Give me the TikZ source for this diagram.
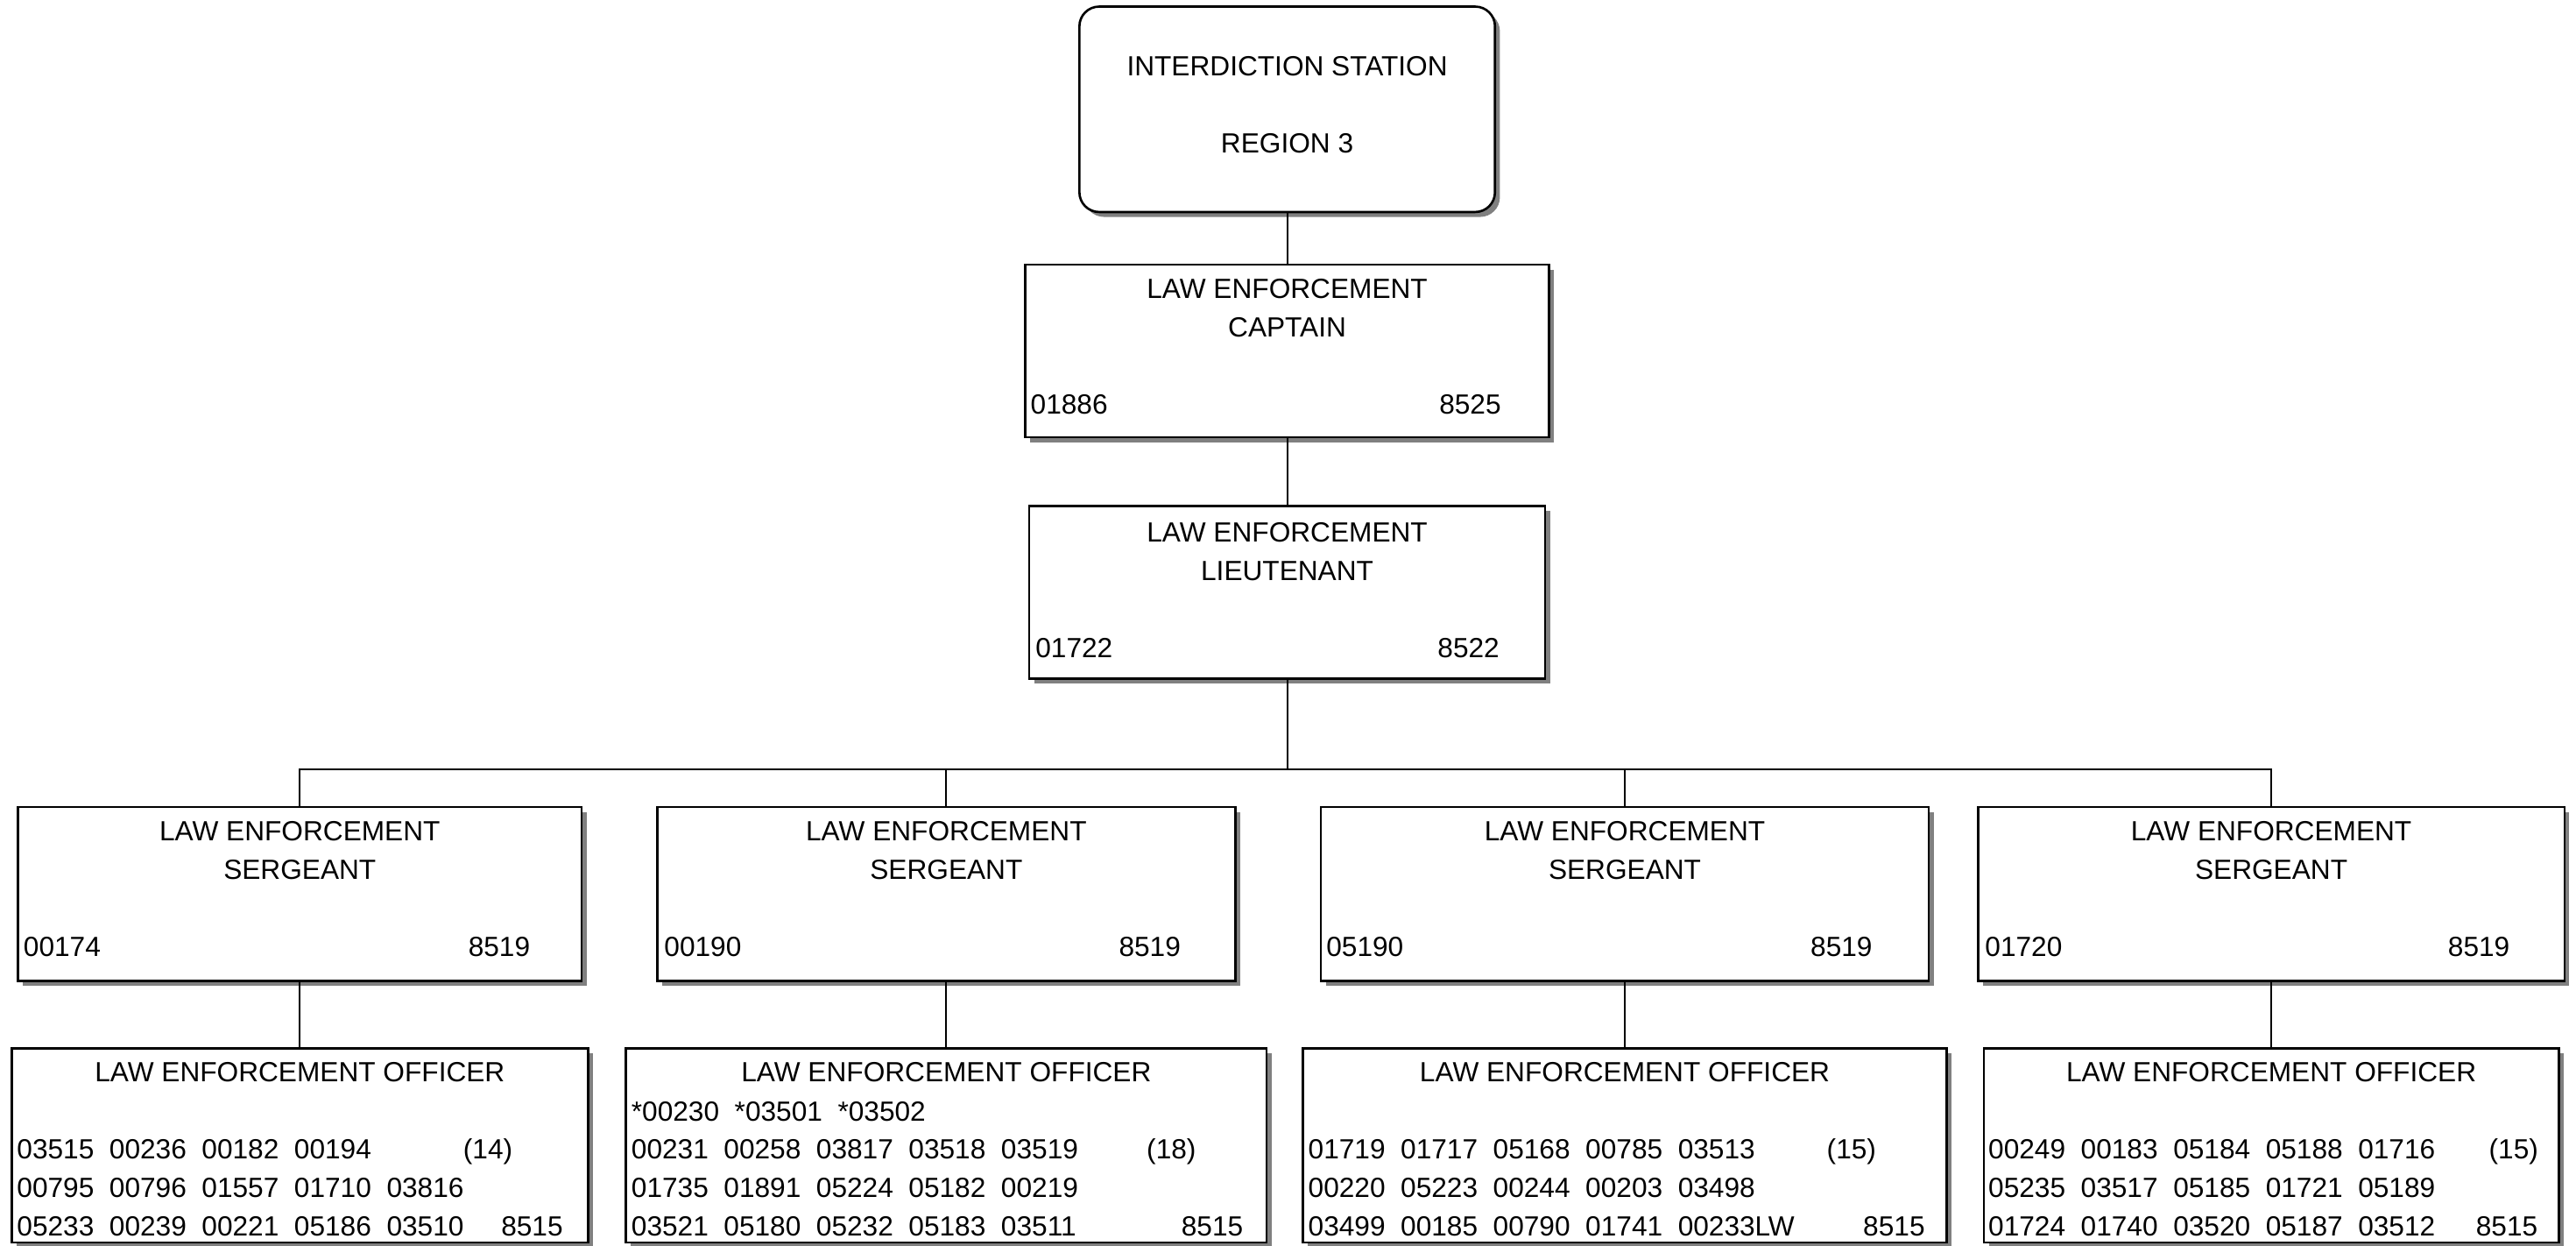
\documentclass[tikz,border=0pt]{standalone}
\usepackage{fontspec}
\setmainfont{Liberation Sans}
\usetikzlibrary{shadows}

\begin{document}
\begin{tikzpicture}[x=0.02cm, y=-0.02cm,
    post/.style={draw, line width=0.8pt, fill=white, minimum height=2.1cm,
      drop shadow={shadow xshift=0.06cm, shadow yshift=-0.06cm, fill=black!50, opacity=1}},
    lbl/.style={inner sep=0pt, font=\fontsize{9.6}{13.3}\selectfont},
    link/.style={line width=0.6pt}]
            \useasboundingbox (0,0) rectangle (1568,758);
            \node[post, rounded corners=0.24cm, minimum width=5.06cm, minimum height=2.5cm] (stn) at (783.5,66.5) {};
            \node[post, minimum width=6.38cm] (cap) at (783.5,213.5) {};
            \node[post, minimum width=6.28cm] (lt) at (783.5,360.5) {};
            \node[post, minimum width=6.86cm, minimum height=2.12cm] (sg1) at (182.5,544) {};
            \node[post, minimum width=7.04cm, minimum height=2.12cm] (sg2) at (576,544) {};
            \node[post, minimum width=7.40cm, minimum height=2.12cm] (sg3) at (989,544) {};
            \node[post, minimum width=7.14cm, minimum height=2.12cm] (sg4) at (1382.5,544) {};
            \node[post, minimum width=7.02cm, minimum height=2.36cm] (of1) at (182.5,697) {};
            \node[post, minimum width=7.80cm, minimum height=2.36cm] (of2) at (576,697) {};
            \node[post, minimum width=7.84cm, minimum height=2.36cm] (of3) at (989,697) {};
            \node[post, minimum width=7.00cm, minimum height=2.36cm] (of4) at (1382.5,697) {};

            \node[lbl, align=center, anchor=base] (stnt) at (783.5,93) {INTERDICTION STATION\\[0.47cm]REGION 3};

            \node[lbl, align=center, anchor=base] (capt) at (783.5,205) {LAW ENFORCEMENT\\CAPTAIN};
            \node[lbl, anchor=base west] (capl) at (627,252) {01886};
            \node[lbl, anchor=base east] (capr) at (914,252) {8525};

            \node[lbl, align=center, anchor=base] (ltt) at (783.5,353) {LAW ENFORCEMENT\\LIEUTENANT};
            \node[lbl, anchor=base west] (ltl) at (630,400) {01722};
            \node[lbl, anchor=base east] (ltr) at (913,400) {8522};

            \node[lbl, align=center, anchor=base] (sg1t) at (182.5,535) {LAW ENFORCEMENT\\SERGEANT};
            \node[lbl, anchor=base west] (sg1l) at (14,582) {00174};
            \node[lbl, anchor=base east] (sg1r) at (323,582) {8519};
            \node[lbl, align=center, anchor=base] (sg2t) at (576,535) {LAW ENFORCEMENT\\SERGEANT};
            \node[lbl, anchor=base west] (sg2l) at (404,582) {00190};
            \node[lbl, anchor=base east] (sg2r) at (719,582) {8519};
            \node[lbl, align=center, anchor=base] (sg3t) at (989,535) {LAW ENFORCEMENT\\SERGEANT};
            \node[lbl, anchor=base west] (sg3l) at (807,582) {05190};
            \node[lbl, anchor=base east] (sg3r) at (1140,582) {8519};
            \node[lbl, align=center, anchor=base] (sg4t) at (1382.5,535) {LAW ENFORCEMENT\\SERGEANT};
            \node[lbl, anchor=base west] (sg4l) at (1208,582) {01720};
            \node[lbl, anchor=base east] (sg4r) at (1528,582) {8519};

            \node[lbl, anchor=base] (of1t) at (182.5,658) {LAW ENFORCEMENT OFFICER};
            \node[lbl, align=left, anchor=base west] (of1n) at (10,752) {03515~~00236~~00182~~00194\\00795~~00796~~01557~~01710~~03816\\05233~~00239~~00221~~05186~~03510};
            \node[lbl, anchor=base] (of1c) at (297,705) {(14)};
            \node[lbl, anchor=base east] (of1r) at (343,752) {8515};

            \node[lbl, anchor=base] (of2t) at (576,658) {LAW ENFORCEMENT OFFICER};
            \node[lbl, align=left, anchor=base west] (of2n) at (384,752) {*00230~~*03501~~*03502\\00231~~00258~~03817~~03518~~03519\\01735~~01891~~05224~~05182~~00219\\03521~~05180~~05232~~05183~~03511};
            \node[lbl, anchor=base] (of2c) at (713,705) {(18)};
            \node[lbl, anchor=base east] (of2r) at (757,752) {8515};

            \node[lbl, anchor=base] (of3t) at (989,658) {LAW ENFORCEMENT OFFICER};
            \node[lbl, align=left, anchor=base west] (of3n) at (796,752) {01719~~01717~~05168~~00785~~03513\\00220~~05223~~00244~~00203~~03498\\03499~~00185~~00790~~01741~~00233LW};
            \node[lbl, anchor=base] (of3c) at (1127,705) {(15)};
            \node[lbl, anchor=base east] (of3r) at (1172,752) {8515};

            \node[lbl, anchor=base] (of4t) at (1382.5,658) {LAW ENFORCEMENT OFFICER};
            \node[lbl, align=left, anchor=base west] (of4n) at (1210,752) {00249~~00183~~05184~~05188~~01716\\05235~~03517~~05185~~01721~~05189\\01724~~01740~~03520~~05187~~03512};
            \node[lbl, anchor=base] (of4c) at (1530,705) {(15)};
            \node[lbl, anchor=base east] (of4r) at (1545,752) {8515};

            \coordinate (bus) at (783.5,468);
            \draw[link] (stn.south) -- (cap.north);
            \draw[link] (cap.south) -- (lt.north);
            \draw[link] (lt.south) -- (bus);
            \draw[link] (sg1.north) |- (bus) -| (sg4.north);
            \draw[link] (bus -| sg2.north) -- (sg2.north);
            \draw[link] (bus -| sg3.north) -- (sg3.north);
            \draw[link] (sg1.south) -- (of1.north);
            \draw[link] (sg2.south) -- (of2.north);
            \draw[link] (sg3.south) -- (of3.north);
            \draw[link] (sg4.south) -- (of4.north);
        \end{tikzpicture}
\end{document}
